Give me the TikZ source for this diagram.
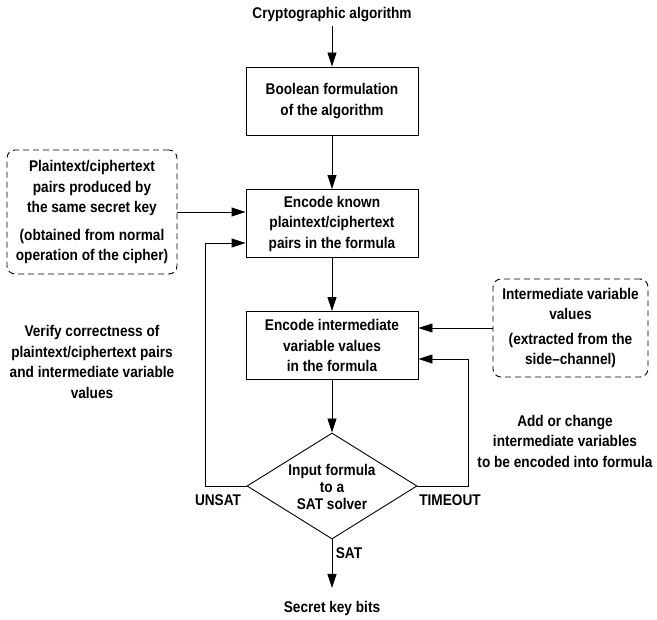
\documentclass[tikz,border=0pt]{standalone}
\usepackage{fontspec}
\setmainfont{Liberation Sans}[FakeStretch=0.88]
\usetikzlibrary{arrows.meta,shapes.geometric,calc}
\begin{document}
\begin{tikzpicture}[x=1pt,y=-1pt,line width=0.9pt,
    every node/.style={font=\bfseries\fontsize{15.5}{20.5}\selectfont,align=center},
    blk/.style={draw,minimum width=172pt,minimum height=68pt,inner sep=2pt},
    dbox/.style={draw,dashed,dash pattern=on 6pt off 4pt,rounded corners=8pt,inner sep=2pt},
    dia/.style={draw,diamond,aspect=1.6,inner sep=0pt,minimum width=170pt,minimum height=106pt,
      font=\bfseries\fontsize{15.5}{17}\selectfont},
    arr/.style={-{Triangle[length=14pt,width=9pt]}}]
  \useasboundingbox (0,0) rectangle (657,620);
  \node (alg) at (332,15) {Cryptographic algorithm};
  \node[blk] (bool) at (332,101) {Boolean formulation\\of the algorithm};
  \node[blk] (known) at (332,223.5) {Encode known\\plaintext/ciphertext\\pairs in the formula};
  \node[blk] (inter) at (332,345.5) {Encode intermediate\\variable values\\in the formula};
  \node[dia] (sat) at (332,486) {\\[-3pt]Input formula\\to a\\SAT solver};
  \node (key) at (332,608) {Secret key bits};
  \node[dbox,minimum width=170pt,minimum height=124pt] (pairs) at (92,212)
    {Plaintext/ciphertext\\pairs produced by\\the same secret key\\[7pt](obtained from normal\\operation of the cipher)};
  \node[dbox,minimum width=155pt,minimum height=98pt] (side) at (570.5,328)
    {Intermediate variable\\values\\[4pt](extracted from the\\side--channel)};
  \node (verify) at (92,362) {Verify correctness of\\plaintext/ciphertext pairs\\and intermediate variable\\values};
  \node (change) at (565,441) {Add or change\\intermediate variables\\to be encoded into formula};
  \node (unsat) at (218,500) {UNSAT};
  \node (timeout) at (450,500) {TIMEOUT};
  \node (satlbl) at (349,553) {SAT};
  \draw[arr] (alg) -- (bool);
  \draw[arr] (bool) -- (known);
  \draw[arr] (known) -- (inter);
  \draw[arr] (inter) -- (sat);
  \draw[arr,shorten >=9pt] (sat) -- (key);
  \draw[arr] (pairs.east) -- (known.west |- pairs.east);
  \draw[arr] (side.west) -- (inter.east |- side.west);
  \draw[arr] (sat.west) -- (205,486) |- ($(known.west)+(0,19.5)$);
  \draw[arr] (sat.east) -- (468,486) |- ($(inter.east)+(0,13.5)$);
\end{tikzpicture}
\end{document}
